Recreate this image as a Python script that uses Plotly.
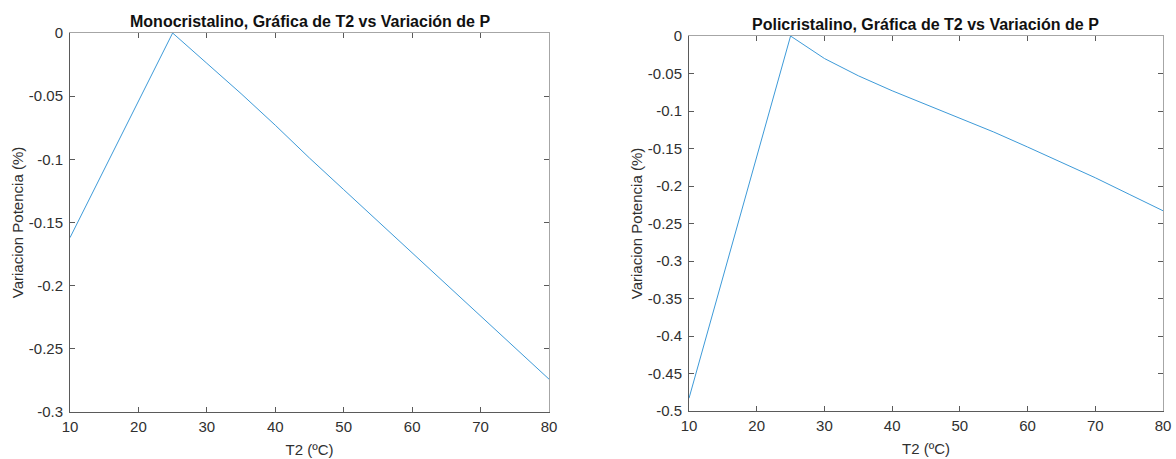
import plotly.graph_objects as go

# Temperature T2 (ºC) and relative power variation (%)
t2 = [10, 15, 20, 25, 30, 35, 40, 45, 50, 55, 60, 65, 70, 75, 80]
mono = [-0.162, -0.108, -0.054, 0.0, -0.024, -0.048, -0.073, -0.099,
        -0.124, -0.149, -0.174, -0.199, -0.224, -0.249, -0.274]
poli = [-0.483, -0.322, -0.161, 0.0, -0.030, -0.053, -0.073, -0.091,
        -0.110, -0.128, -0.148, -0.168, -0.189, -0.211, -0.233]

x_ticks = [10, 20, 30, 40, 50, 60, 70, 80]
x_labels = ["10", "20", "30", "40", "50", "60", "70", "80"]
mono_ticks = [0, -0.05, -0.1, -0.15, -0.2, -0.25, -0.3]
mono_labels = ["0", "-0.05", "-0.1", "-0.15", "-0.2", "-0.25", "-0.3"]
poli_ticks = [0, -0.05, -0.1, -0.15, -0.2, -0.25, -0.3, -0.35, -0.4, -0.45, -0.5]
poli_labels = ["0", "-0.05", "-0.1", "-0.15", "-0.2", "-0.25", "-0.3",
               "-0.35", "-0.4", "-0.45", "-0.5"]

titles = ["Monocristalino, Gráfica de T2 vs Variación de P",
          "Policristalino, Gráfica de T2 vs Variación de P"]

W, H = 1176, 459
FONT = "Liberation Sans, Arial, Helvetica, sans-serif"
TXT = "#303030"
AX_DARK = "#5a5a5a"
AX_LIGHT = "#a6a6a6"
LINE = "#3d9ad8"

fig = go.Figure()

panels = [
    dict(y=mono, yt=mono_ticks, yl=mono_labels, yr=[-0.3, 0],
         dx=[70 / W, 549 / W], dy=[1 - 412 / H, 1 - 33 / H]),
    dict(y=poli, yt=poli_ticks, yl=poli_labels, yr=[-0.5, 0],
         dx=[689 / W, 1163 / W], dy=[1 - 411 / H, 1 - 36 / H]),
]

layout = dict(
    width=W, height=H, margin=dict(l=0, r=0, t=0, b=0),
    paper_bgcolor="white", plot_bgcolor="white", showlegend=False,
    font=dict(family=FONT, size=15, color=TXT),
)

annotations = []
for i, p in enumerate(panels):
    a = 2 * i + 1          # main axes
    b = 2 * i + 2          # mirrored top/right axes
    xa, ya = f"x{a}", f"y{a}"
    xb, yb = f"x{b}", f"y{b}"
    fig.add_trace(go.Scatter(x=t2, y=p["y"], mode="lines",
                             line=dict(color=LINE, width=1),
                             xaxis=xa, yaxis=ya, hoverinfo="skip"))
    fig.add_trace(go.Scatter(x=[], y=[], xaxis=xb, yaxis=yb,
                             hoverinfo="skip"))
    common_x = dict(range=[10, 80], tickmode="array", tickvals=x_ticks,
                    ticks="inside", ticklen=5, showgrid=False,
                    zeroline=False, showline=True, domain=p["dx"],
                    automargin=False)
    common_y = dict(range=p["yr"], tickmode="array", tickvals=p["yt"],
                    ticks="inside", ticklen=5, showgrid=False,
                    zeroline=False, showline=True, domain=p["dy"],
                    automargin=False)
    layout[f"xaxis{a}"] = dict(common_x, anchor=ya, ticktext=x_labels,
                               linecolor=AX_DARK, tickcolor=AX_DARK,
                               linewidth=1, ticklabelstandoff=1,
                               tickfont=dict(size=15, color=TXT),
                               title=dict(text="T2 (ºC)", standoff=10,
                                          font=dict(size=15, color=TXT)))
    layout[f"yaxis{a}"] = dict(common_y, anchor=xa, ticktext=p["yl"],
                               linecolor=AX_DARK, tickcolor=AX_DARK,
                               linewidth=1, ticklabelstandoff=3,
                               tickfont=dict(size=15, color=TXT),
                               title=dict(text="Variacion Potencia (%)",
                                          standoff=1,
                                          font=dict(size=15, color=TXT)))
    layout[f"xaxis{b}"] = dict(common_x, anchor=yb, overlaying=xa,
                               side="top", showticklabels=False,
                               linecolor=AX_LIGHT, tickcolor=AX_DARK)
    layout[f"yaxis{b}"] = dict(common_y, anchor=xb, overlaying=ya,
                               side="right", showticklabels=False,
                               linecolor=AX_LIGHT, tickcolor=AX_DARK)
    annotations.append(dict(
        text=f"<b>{titles[i]}</b>", xref="paper", yref="paper",
        x=(p["dx"][0] + p["dx"][1]) / 2, y=p["dy"][1],
        xanchor="center", yanchor="bottom", yshift=1, showarrow=False,
        font=dict(size=16, color="#111111")))

layout["annotations"] = annotations
fig.update_layout(**layout)
fig.write_html("out.html")
